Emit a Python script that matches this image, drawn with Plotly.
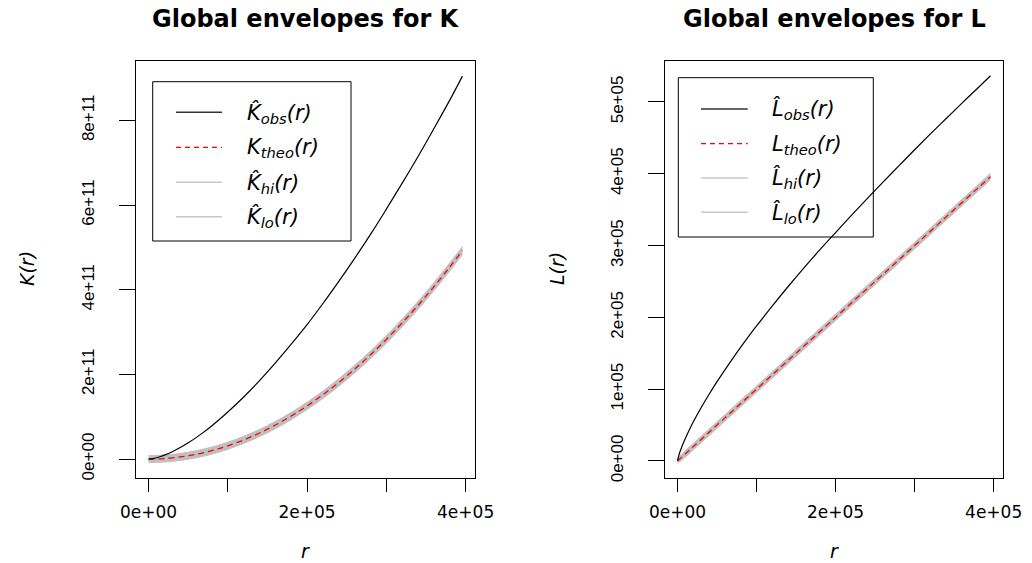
import plotly.graph_objects as go

# ---------------- data ----------------
# distance r (units of 1e5)
r_e5 = [0, 0.02, 0.05, 0.1, 0.15, 0.2, 0.3, 0.4, 0.5, 0.6, 0.7, 0.8, 0.9, 1.0,
        1.2, 1.4, 1.6, 1.8, 2.0, 2.2, 2.4, 2.6, 2.8, 3.0, 3.2, 3.4, 3.6, 3.8, 3.96]

# K functions (units of 1e11)
K_obs = [0, 0.0025, 0.0108, 0.0312, 0.0595, 0.0933, 0.1744, 0.2717, 0.3836,
         0.5067, 0.6424, 0.7892, 0.9457, 1.1104, 1.4658, 1.8551, 2.2733, 2.7155,
         3.1769, 3.6745, 4.1969, 4.7417, 5.3068, 5.9038, 6.5182, 7.1481, 7.8069,
         8.4786, 9.0459]
K_theo = [0, 0.0001, 0.0008, 0.003, 0.007, 0.013, 0.028, 0.050, 0.079, 0.113,
          0.154, 0.201, 0.255, 0.314, 0.452, 0.616, 0.804, 1.018, 1.257, 1.521,
          1.810, 2.124, 2.463, 2.827, 3.217, 3.632, 4.072, 4.537, 4.927]
K_hi = [0.083, 0.083, 0.084, 0.086, 0.091, 0.096, 0.111, 0.133, 0.162, 0.196,
        0.238, 0.285, 0.339, 0.398, 0.537, 0.701, 0.890, 1.104, 1.344, 1.609,
        1.899, 2.214, 2.554, 2.919, 3.310, 3.726, 4.167, 4.633, 5.022]
K_lo = [-0.083, -0.083, -0.082, -0.080, -0.076, -0.070, -0.055, -0.033, -0.004,
        0.030, 0.070, 0.117, 0.170, 0.230, 0.367, 0.531, 0.718, 0.932, 1.170,
        1.433, 1.721, 2.034, 2.372, 2.735, 3.124, 3.538, 3.977, 4.441, 4.832]

# L functions (units of 1e5)
L_obs = [0, 0.09, 0.185, 0.315, 0.435, 0.545, 0.745, 0.93, 1.105, 1.27, 1.43,
         1.585, 1.735, 1.88, 2.16, 2.43, 2.69, 2.94, 3.18, 3.42, 3.655, 3.885,
         4.11, 4.335, 4.555, 4.77, 4.985, 5.195, 5.366]
L_theo = [0, 0.02, 0.05, 0.1, 0.15, 0.2, 0.3, 0.4, 0.5, 0.6, 0.7, 0.8, 0.9, 1.0,
          1.2, 1.4, 1.6, 1.8, 2.0, 2.2, 2.4, 2.6, 2.8, 3.0, 3.2, 3.4, 3.6, 3.8, 3.96]
L_hi = [0.030, 0.053, 0.092, 0.145, 0.195, 0.245, 0.345, 0.445, 0.545, 0.645,
        0.745, 0.845, 0.945, 1.045, 1.245, 1.445, 1.645, 1.845, 2.045, 2.245,
        2.445, 2.645, 2.845, 3.045, 3.245, 3.445, 3.645, 3.845, 4.005]
L_lo = [-0.030, -0.013, 0.008, 0.055, 0.105, 0.155, 0.255, 0.355, 0.455, 0.555,
        0.655, 0.755, 0.855, 0.955, 1.155, 1.355, 1.555, 1.755, 1.955, 2.155,
        2.355, 2.555, 2.755, 2.955, 3.155, 3.355, 3.555, 3.755, 3.915]

x_ticks = [0, 2e5, 4e5]
x_ticktext = ["0e+00", "2e+05", "4e+05"]
x_minor_step = 1e5
K_ticks = [0, 2e11, 4e11, 6e11, 8e11]
K_ticktext = ["0e+00", "2e+11", "4e+11", "6e+11", "8e+11"]
L_ticks = [0, 1e5, 2e5, 3e5, 4e5, 5e5]
L_ticktext = ["0e+00", "1e+05", "2e+05", "3e+05", "4e+05", "5e+05"]

titles = ["Global envelopes for K", "Global envelopes for L"]
legend_K = ["<i>K\u0302<sub>obs</sub>(r)</i>", "<i>K<sub>theo</sub>(r)</i>",
            "<i>K\u0302<sub>hi</sub>(r)</i>", "<i>K\u0302<sub>lo</sub>(r)</i>"]
legend_L = ["<i>L\u0302<sub>obs</sub>(r)</i>", "<i>L<sub>theo</sub>(r)</i>",
            "<i>L\u0302<sub>hi</sub>(r)</i>", "<i>L\u0302<sub>lo</sub>(r)</i>"]

# ---------------- styles ----------------
W, H = 1032, 563
BAND = "#BFBFBF"
FONT = "DejaVu Sans"

r = [v * 1e5 for v in r_e5]

fig = go.Figure()


def add_panel(xa, ya, obs, theo, hi, lo, scale):
    sx = "x" if xa == 1 else f"x{xa}"
    sy = "y" if ya == 1 else f"y{ya}"
    fig.add_trace(go.Scatter(x=r, y=[v * scale for v in lo], mode="lines",
                             line=dict(color=BAND, width=1, shape="spline"),
                             xaxis=sx, yaxis=sy, showlegend=False, hoverinfo="skip"))
    fig.add_trace(go.Scatter(x=r, y=[v * scale for v in hi], mode="lines",
                             line=dict(color=BAND, width=1, shape="spline"),
                             fill="tonexty", fillcolor=BAND, xaxis=sx, yaxis=sy,
                             showlegend=False, hoverinfo="skip"))
    fig.add_trace(go.Scatter(x=r, y=[v * scale for v in theo], mode="lines",
                             line=dict(color="#FF0000", width=1.3, dash="6px,4px",
                                       shape="spline"),
                             xaxis=sx, yaxis=sy, showlegend=False))
    fig.add_trace(go.Scatter(x=r, y=[v * scale for v in obs], mode="lines",
                             line=dict(color="black", width=1.2, shape="spline"),
                             xaxis=sx, yaxis=sy, showlegend=False))


add_panel(1, 1, K_obs, K_theo, K_hi, K_lo, 1e11)
add_panel(2, 2, L_obs, L_theo, L_hi, L_lo, 1e5)


def px(x):
    return x / W


def py(y):
    return 1 - y / H


xr = [-15840, 411840]
common_x = dict(range=xr, tickvals=x_ticks, ticktext=x_ticktext, ticks="outside",
                ticklen=13, tickwidth=1, tickcolor="black", showline=True,
                linecolor="black", linewidth=1, mirror=True, showgrid=False,
                zeroline=False, automargin=False,
                minor=dict(tick0=0, dtick=x_minor_step, ticks="outside", ticklen=13,
                           tickwidth=1, tickcolor="black", showgrid=False),
                tickfont=dict(family=FONT, size=17, color="black"),
                ticklabelstandoff=6)
common_y = dict(ticks="outside", ticklen=16, tickwidth=1, tickcolor="black",
                showline=True, linecolor="black", linewidth=1, mirror=True,
                showgrid=False, zeroline=False, tickangle=-90, automargin=False,
                tickfont=dict(family="Liberation Sans", size=17, color="black"),
                ticklabelstandoff=18)

fig.update_layout(
    width=W, height=H, autosize=False, margin=dict(l=0, r=0, t=0, b=0, pad=0),
    paper_bgcolor="white", plot_bgcolor="white",
    xaxis=dict(domain=[px(136), px(475)], anchor="y", **common_x),
    yaxis=dict(domain=[py(477.7), py(60.7)], anchor="x", range=[-0.44e11, 9.41e11],
               tickvals=K_ticks, ticktext=K_ticktext, **common_y),
    xaxis2=dict(domain=[px(665), px(1003)], anchor="y2", **common_x),
    yaxis2=dict(domain=[py(477.7), py(60.7)], anchor="x2", range=[-0.233e5, 5.575e5],
                tickvals=L_ticks, ticktext=L_ticktext, **common_y),
)

shapes = []
annotations = []


def legend(box, x0, x1, rows, xt, labels):
    bx0, by0, bx1, by1 = box
    shapes.append(dict(type="rect", xref="paper", yref="paper", x0=px(bx0), x1=px(bx1),
                       y0=py(by1), y1=py(by0), line=dict(color="black", width=1),
                       fillcolor="rgba(0,0,0,0)", layer="above"))
    styles = [dict(color="#333333", width=1.5),
              dict(color="#FF0000", width=1.3, dash="5px,4px"),
              dict(color="#C8C8C8", width=1.5),
              dict(color="#C8C8C8", width=1.5)]
    for yrow, st, lab in zip(rows, styles, labels):
        shapes.append(dict(type="line", xref="paper", yref="paper", x0=px(x0), x1=px(x1),
                           y0=py(yrow), y1=py(yrow), line=st, layer="above"))
        annotations.append(dict(text=lab, xref="paper", yref="paper", x=px(xt),
                                y=py(yrow + 1), xanchor="left", yanchor="middle",
                                showarrow=False,
                                font=dict(family=FONT, size=21, color="black")))


legend((152.7, 81.7, 351, 241), 176, 222, [112.3, 147.3, 182.3, 216.7], 245, legend_K)
legend((678.3, 77.7, 873.3, 237), 701, 747.7, [109, 143.7, 178, 212.3], 770, legend_L)

# titles
for cx, t in zip([306, 834], titles):
    annotations.append(dict(text=f"<b>{t}</b>", xref="paper", yref="paper", x=px(cx),
                            y=py(19), xanchor="center", yanchor="middle", showarrow=False,
                            font=dict(family=FONT, size=24, color="black")))
# x labels
for cx in [305.5, 834]:
    annotations.append(dict(text="<i>r</i>", xref="paper", yref="paper", x=px(cx),
                            y=py(551), xanchor="center", yanchor="middle", showarrow=False,
                            font=dict(family=FONT, size=19, color="black")))
# y labels
for cx, t in [(27, "<i>K(r)</i>"), (557, "<i>L(r)</i>")]:
    annotations.append(dict(text=t, xref="paper", yref="paper", x=px(cx), y=py(269),
                            xanchor="center", yanchor="middle", textangle=-90,
                            showarrow=False, font=dict(family=FONT, size=19, color="black")))

fig.update_layout(shapes=shapes, annotations=annotations)
fig.write_html("out.html")
